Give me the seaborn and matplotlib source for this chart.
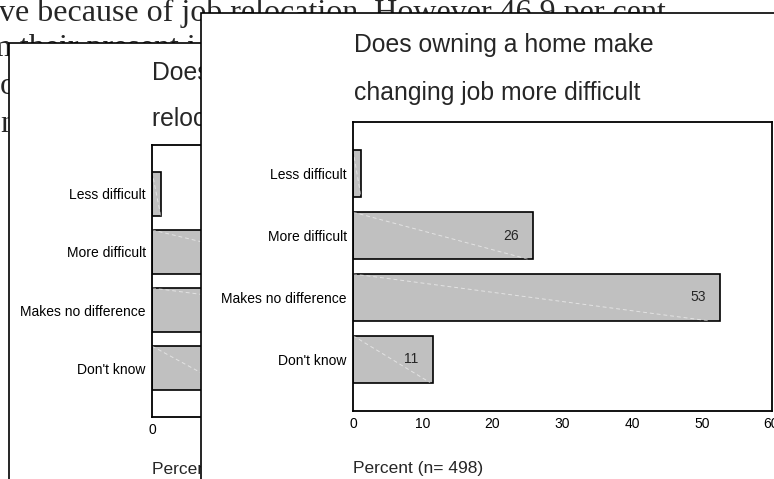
import matplotlib
matplotlib.use("Agg")
import matplotlib.pyplot as plt
import seaborn as sns
import pandas as pd
from matplotlib.patches import Rectangle

# ---------------- data ----------------
categories = ["Less difficult", "More difficult", "Makes no difference", "Don't know"]
right_values = [1.2, 25.8, 52.6, 11.4]
# left chart is mostly covered by the right one; only the first bar end is visible
left_values = [1.3, 27.0, 50.0, 12.0]
x_ticks = [0, 10, 20, 30, 40, 50, 60]
right_title = ["Does owning a home make", "changing job more difficult"]
left_title = ["Does owning a home make", "relocation more difficult"]
x_label = "Percent (n= 498)"
bg_lines = ["ve because of job relocation. However 46.9 per cent",
            "m their present i",
            "o",
            "ne"]

W, H = 774, 479
PX_PER_UNIT = (771.5 - 353) / 60.0


def rect(l, t, r, b):
    return [l / W, 1 - b / H, (r - l) / W, (b - t) / H]


sns.set_style("white")
plt.rcParams["font.family"] = ["Liberation Sans", "DejaVu Sans"]

fig = plt.figure(figsize=(W / 100, H / 100), dpi=100)
fig.patch.set_facecolor("white")

# background document text
bg_x = [-1, -13, 0, 0]
bg_y = [20.5, 56, 94.5, 132]
for txt, x, y in zip(bg_lines, bg_x, bg_y):
    fig.text(x / W, 1 - y / H, txt, family=["Liberation Serif", "DejaVu Serif"],
             fontsize=23, va="baseline", ha="left", zorder=0)

# panel backgrounds
fig.add_artist(Rectangle((9 / W, 1 - 700 / H), 900 / W, (700 - 43) / H,
                         transform=fig.transFigure, facecolor="white",
                         edgecolor="black", linewidth=1.2, zorder=1))
fig.add_artist(Rectangle((201 / W, 1 - 700 / H), 900 / W, (700 - 13) / H,
                         transform=fig.transFigure, facecolor="white",
                         edgecolor="black", linewidth=1.2, zorder=3))


def draw_chart(ax, values, xmax, labelpad):
    df = pd.DataFrame({"cat": categories, "val": values})
    sns.barplot(data=df, x="val", y="cat", orient="h", color="#c0c0c0",
                saturation=1, edgecolor="black", linewidth=1.2, width=0.76, ax=ax)
    ax.set_xticks(x_ticks)
    ax.set_xticklabels([str(t) for t in x_ticks])
    ax.set_xlim(0, xmax)
    ax.set_ylim(3.84, -0.84)
    ax.tick_params(axis="both", direction="out", length=2.5, width=2,
                   color="black", labelcolor="black", labelsize=10, pad=2)
    for s in ax.spines.values():
        s.set_visible(True)
        s.set_color("black")
        s.set_linewidth(1.3)
    ax.set_ylabel("")
    ax.set_xlabel(x_label, loc="left", fontsize=12.5, labelpad=labelpad)
    ax.set_facecolor("white")
    # faint diagonal streaks seen inside the bars
    for p in list(ax.patches):
        x0, y0, w, h = p.get_x(), p.get_y(), p.get_width(), p.get_height()
        ax.plot([x0, x0 + w * 0.97], [y0, y0 + h], color="white", lw=0.7,
                ls=(0, (4, 3)), alpha=0.55, zorder=p.get_zorder() + 0.1)
    for i, v in enumerate(values):
        if v >= 5:
            ax.annotate(f"{round(v)}", xy=(v, i), xytext=(-10, 0),
                        textcoords="offset points", ha="right", va="center",
                        fontsize=10)


# left chart: only its leftmost strip is visible, the rest lies under the right panel
left_r = 204
ax_left = fig.add_axes(rect(152, 145, left_r, 417))
ax_left.set_zorder(2)
draw_chart(ax_left, left_values, (left_r - 152) / PX_PER_UNIT, 18)

ax_right = fig.add_axes(rect(353, 122, 771.5, 411))
ax_right.set_zorder(4)
draw_chart(ax_right, right_values, 60, 21.5)

# titles
for line, y in zip(left_title, [80, 126]):
    fig.text(152 / W, 1 - y / H, line, fontsize=17.8, va="baseline", ha="left", zorder=2.5)
for line, y in zip(right_title, [52, 100]):
    fig.text(354 / W, 1 - y / H, line, fontsize=17.8, va="baseline", ha="left", zorder=5)

fig.savefig("out.png", dpi=100)
